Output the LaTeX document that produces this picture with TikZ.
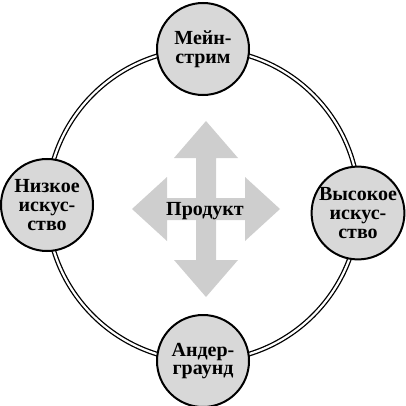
\documentclass[tikz,border=0pt]{standalone}
\usepackage{fontspec}
\setmainfont{Liberation Serif}
\usepackage{tikz}
\definecolor{ringgray}{RGB}{216,216,216}
\definecolor{arrowgray}{RGB}{206,206,206}
\tikzset{
  stage/.style={circle,draw=black,line width=2pt,fill=ringgray,
    minimum size=92pt,inner sep=0,align=center,
    font=\fontsize{20}{18.8}\selectfont\bfseries},
  ring/.style={line width=1.3pt,double=white,double distance=2.2pt},
}

\begin{document}
\begin{tikzpicture}[x=1pt,y=-1pt]
  % --- Cadre ---
  \useasboundingbox (0,0) rectangle (405,406);
  \def\R{156}                          % rayon de l'anneau
  \coordinate (hub) at (203,205);      % centre de l'anneau
  \coordinate (cx) at (206,209);       % centre de la croix

  % --- Anneau double ---
  \draw[ring] (hub) circle (\R);

  % --- Croix à quatre flèches ---
  \def\w{10}    % demi-largeur des tiges
  \def\hv{51}   % base des pointes verticales
  \def\tv{88}   % bout des pointes verticales
  \def\hh{39}   % base des pointes horizontales
  \def\th{74}   % bout des pointes horizontales
  \def\pw{32}   % demi-largeur des pointes
  \fill[arrowgray,shift={(cx)}]
    (0,-\tv) -- (\pw,-\hv) -- (\w,-\hv) -- (\w,-11) -- (\hh,-11) -- (\hh,-\pw)
    -- (\th,0) -- (\hh,\pw) -- (\hh,11) -- (\w,11) -- (\w,\hv) -- (\pw,\hv)
    -- (0,\tv) -- (-\pw,\hv) -- (-\w,\hv) -- (-\w,11) -- (-\hh,11) -- (-\hh,\pw)
    -- (-\th,0) -- (-\hh,-\pw) -- (-\hh,-11) -- (-\w,-11) -- (-\w,-\hv) -- (-\pw,-\hv)
    -- cycle;
  \node[inner sep=0,font=\fontsize{20}{20}\selectfont\bfseries] (prod) at (205,211) {Продукт};

  % --- Quatre pôles ---
  \node[stage] (main)  at (hub) [yshift=\R pt] {Мейн-\\стрим};
  \node[stage] (under) at (hub) [yshift=-\R pt] {Андер-\\граунд};
  \node[stage] (low)   at (47,205) {Низкое\\искус-\\ство};
  \node[stage] (high)  at (358,213) {Высокое\\искус-\\ство};
\end{tikzpicture}
\end{document}
